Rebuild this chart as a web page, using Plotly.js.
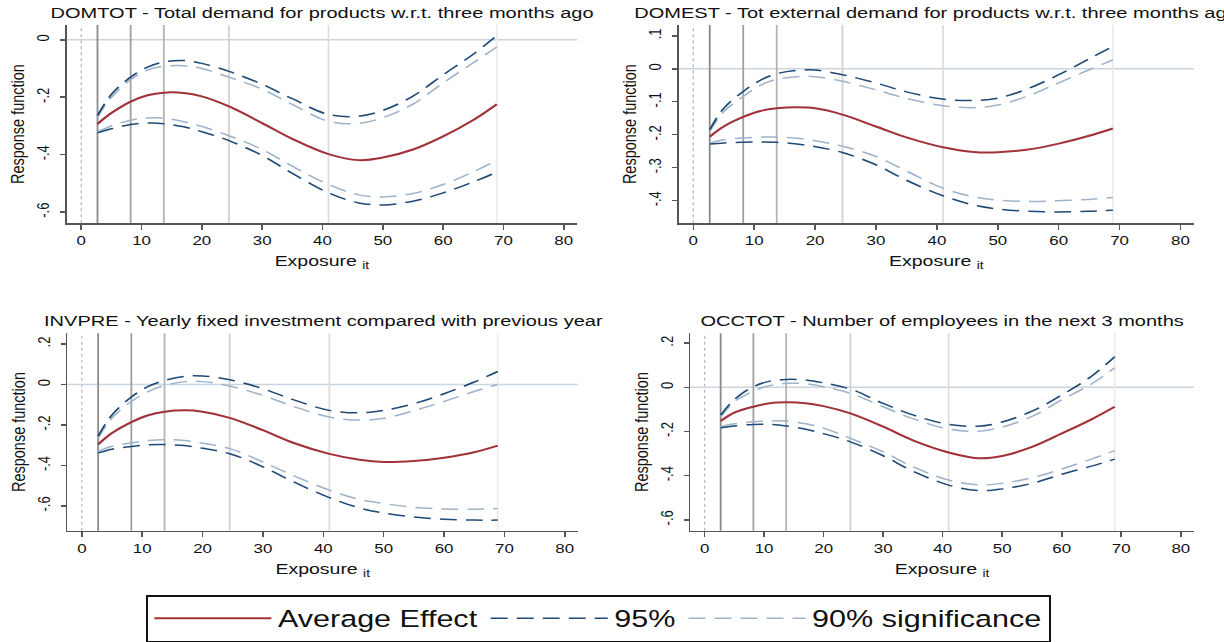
<!DOCTYPE html>
<html>
<head>
<meta charset="utf-8">
<script src="https://cdn.plot.ly/plotly-3.0.1.min.js"></script>
<style>
html,body{margin:0;padding:0;background:#fff;width:1224px;height:642px;overflow:hidden}
#wrap{width:1224px;height:642px;overflow:hidden}
#chart{width:941.54px;height:642px;transform:scaleX(1.3);transform-origin:0 0}
</style>
</head>
<body>
<div id="wrap"><div id="chart"></div></div>
<script>
// ---- data ----
const exposure = [2.7, 5, 8.2, 11, 13.7, 17, 20, 24.5, 30, 35, 41, 46, 50, 55, 60, 65, 68.9];
const percentiles = [2.7, 8.2, 13.7, 24.5, 41, 68.9];
const xTicks = [0, 10, 20, 30, 40, 50, 60, 70, 80];

const titles = [
  'DOMTOT - Total demand for products w.r.t. three months ago',
  'DOMEST - Tot external demand for products w.r.t. three months ago',
  'INVPRE - Yearly fixed investment compared with previous year',
  'OCCTOT - Number of employees in the next 3 months'
];
const seriesNames = ['Average Effect', '95%', '90% significance'];

// DOMTOT
const domtotMean = [-0.293, -0.255, -0.215, -0.193, -0.184, -0.185, -0.197, -0.232, -0.290, -0.345, -0.398, -0.419, -0.410, -0.382, -0.336, -0.279, -0.224];
const domtotUp95 = [-0.264, -0.190, -0.130, -0.095, -0.077, -0.072, -0.082, -0.110, -0.155, -0.205, -0.260, -0.266, -0.246, -0.196, -0.122, -0.050, 0.015];
const domtotUp90 = [-0.269, -0.200, -0.139, -0.105, -0.092, -0.090, -0.100, -0.130, -0.172, -0.225, -0.284, -0.291, -0.271, -0.224, -0.150, -0.080, -0.025];
const domtotLo90 = [-0.321, -0.300, -0.280, -0.272, -0.273, -0.285, -0.302, -0.334, -0.382, -0.440, -0.504, -0.540, -0.547, -0.535, -0.504, -0.460, -0.420];
const domtotLo95 = [-0.324, -0.310, -0.295, -0.290, -0.292, -0.303, -0.320, -0.351, -0.403, -0.465, -0.533, -0.568, -0.575, -0.562, -0.533, -0.495, -0.461];

// DOMEST
const domestMean = [-0.206, -0.175, -0.146, -0.128, -0.120, -0.117, -0.120, -0.139, -0.175, -0.208, -0.238, -0.252, -0.253, -0.245, -0.227, -0.203, -0.181];
const domestUp95 = [-0.185, -0.120, -0.069, -0.035, -0.015, -0.005, -0.004, -0.018, -0.043, -0.070, -0.092, -0.096, -0.089, -0.060, -0.018, 0.030, 0.068];
const domestUp90 = [-0.190, -0.130, -0.084, -0.050, -0.032, -0.024, -0.024, -0.038, -0.064, -0.090, -0.112, -0.118, -0.110, -0.082, -0.043, -0.003, 0.027];
const domestLo90 = [-0.225, -0.215, -0.210, -0.207, -0.207, -0.211, -0.218, -0.235, -0.266, -0.310, -0.362, -0.388, -0.398, -0.402, -0.400, -0.396, -0.390];
const domestLo95 = [-0.228, -0.225, -0.223, -0.222, -0.223, -0.228, -0.236, -0.254, -0.291, -0.338, -0.385, -0.413, -0.425, -0.432, -0.434, -0.432, -0.429];

// INVPRE
const invpreMean = [-0.296, -0.240, -0.186, -0.152, -0.135, -0.128, -0.135, -0.165, -0.226, -0.288, -0.343, -0.372, -0.383, -0.378, -0.362, -0.335, -0.302];
const invpreUp95 = [-0.255, -0.150, -0.062, -0.010, 0.020, 0.040, 0.042, 0.023, -0.021, -0.075, -0.128, -0.140, -0.128, -0.095, -0.046, 0.012, 0.064];
const invpreUp90 = [-0.264, -0.165, -0.084, -0.035, -0.005, 0.014, 0.014, -0.008, -0.054, -0.108, -0.161, -0.176, -0.167, -0.130, -0.084, -0.035, 0.000];
const invpreLo90 = [-0.330, -0.305, -0.289, -0.277, -0.273, -0.277, -0.290, -0.317, -0.383, -0.450, -0.522, -0.568, -0.588, -0.607, -0.615, -0.616, -0.613];
const invpreLo95 = [-0.338, -0.320, -0.306, -0.298, -0.297, -0.302, -0.315, -0.342, -0.407, -0.480, -0.559, -0.610, -0.635, -0.655, -0.666, -0.670, -0.670];

// OCCTOT
const occtotMean = [-0.153, -0.115, -0.088, -0.072, -0.068, -0.072, -0.085, -0.118, -0.178, -0.240, -0.295, -0.321, -0.311, -0.270, -0.209, -0.145, -0.088];
const occtotUp95 = [-0.126, -0.055, 0.003, 0.028, 0.036, 0.033, 0.020, -0.008, -0.073, -0.125, -0.168, -0.176, -0.157, -0.108, -0.035, 0.050, 0.139];
const occtotUp90 = [-0.133, -0.065, -0.017, 0.008, 0.018, 0.016, 0.003, -0.027, -0.088, -0.142, -0.189, -0.199, -0.180, -0.132, -0.057, 0.015, 0.089];
const occtotLo90 = [-0.178, -0.165, -0.156, -0.151, -0.153, -0.165, -0.185, -0.231, -0.292, -0.360, -0.420, -0.442, -0.435, -0.410, -0.370, -0.325, -0.287];
const occtotLo95 = [-0.183, -0.175, -0.168, -0.168, -0.175, -0.190, -0.210, -0.247, -0.310, -0.380, -0.443, -0.468, -0.460, -0.435, -0.394, -0.357, -0.325];

const yTickVals1 = [0, -0.2, -0.4, -0.6];
const yTickText1 = ['0', '-.2', '-.4', '-.6'];
const yTickVals2 = [0.1, 0, -0.1, -0.2, -0.3, -0.4];
const yTickText2 = ['.1', '0', '-.1', '-.2', '-.3', '-.4'];
const yTickVals3 = [0.2, 0, -0.2, -0.4, -0.6];
const yTickText3 = ['.2', '0', '-.2', '-.4', '-.6'];

// ---- styling / layout ----
const RED = '#a2323a', DARK = '#1f4a76', LIGHT = '#9fb4ca';
const pctColors = ['#8c8c8c', '#a0a0a0', '#b4b4b4', '#d2d2d2', '#dedede', '#ececec'];
const FONT = 'Liberation Sans, Arial, Helvetica, sans-serif';

const panels = [
  {sfx: '',  mean: domtotMean, up95: domtotUp95, up90: domtotUp90, lo90: domtotLo90, lo95: domtotLo95,
   xdom: [0.0545, 0.4712], ydom: [0.6511, 0.9611], yrange: [-0.639, 0.052], yv: yTickVals1, yt: yTickText1, titleY: 1 - 13/642},
  {sfx: '2', mean: domestMean, up95: domestUp95, up90: domestUp90, lo90: domestLo90, lo95: domestLo95,
   xdom: [0.5542, 0.9749], ydom: [0.6511, 0.9611], yrange: [-0.4685, 0.133], yv: yTickVals2, yt: yTickText2, titleY: 1 - 13/642},
  {sfx: '3', mean: invpreMean, up95: invpreUp95, up90: invpreUp90, lo90: invpreLo90, lo95: invpreLo95,
   xdom: [0.0550, 0.4720], ydom: [0.1706, 0.4793], yrange: [-0.723, 0.253], yv: yTickVals3, yt: yTickText3, titleY: 1 - 322/642},
  {sfx: '4', mean: occtotMean, up95: occtotUp95, up90: occtotUp90, lo90: occtotLo90, lo95: occtotLo95,
   xdom: [0.5637, 0.9749], ydom: [0.1706, 0.4793], yrange: [-0.65, 0.245], yv: yTickVals3, yt: yTickText3, titleY: 1 - 322/642}
];

const traces = [];
const shapes = [];
const annotations = [];
const layout = {
  width: 941.54, height: 642,
  margin: {l: 0, r: 0, t: 0, b: 0},
  paper_bgcolor: '#fff', plot_bgcolor: '#fff',
  font: {family: FONT, color: '#111'},
  showlegend: true,
  legend: {
    orientation: 'h', x: 0.4886, xanchor: 'center', y: 1 - 597/642, yanchor: 'top',
    bordercolor: '#111', borderwidth: 1.5, bgcolor: '#fff',
    font: {size: 23.5, family: FONT, color: '#111'}, itemwidth: 90, traceorder: 'normal'
  }
};

panels.forEach((p, i) => {
  const xa = 'x' + p.sfx, ya = 'y' + p.sfx;
  const first = i === 0;
  const mk = (y, color, dash, width, name, show, rank) => ({
    type: 'scatter', mode: 'lines', x: exposure, y: y, xaxis: xa, yaxis: ya,
    line: {color: color, dash: dash, width: width, shape: 'spline', smoothing: 1},
    name: name, legendgroup: name, showlegend: show, legendrank: rank, hoverinfo: 'skip'
  });
  traces.push(mk(p.up90, LIGHT, '13px,7px', 1.5, seriesNames[2], first, 3));
  traces.push(mk(p.lo90, LIGHT, '13px,7px', 1.5, seriesNames[2], false, 3));
  traces.push(mk(p.up95, DARK, '13px,7px', 1.5, seriesNames[1], first, 2));
  traces.push(mk(p.lo95, DARK, '13px,7px', 1.5, seriesNames[1], false, 2));
  traces.push(mk(p.mean, RED, 'solid', 2, seriesNames[0], first, 1));

  layout['xaxis' + p.sfx] = {
    domain: p.xdom, anchor: ya, range: [-2.4, 82.2],
    tickvals: xTicks, ticks: 'outside', ticklen: 5, tickwidth: 1.2, tickcolor: '#555',
    showline: true, linecolor: '#555', linewidth: 1.5, showgrid: false, zeroline: false,
    tickfont: {size: 13, family: FONT, color: '#111'},
    title: {text: 'Exposure <sub>it</sub>', font: {size: 15, family: FONT, color: '#111'}, standoff: 8},
    fixedrange: true
  };
  layout['yaxis' + p.sfx] = {
    domain: p.ydom, anchor: xa, range: p.yrange,
    tickvals: p.yv, ticktext: p.yt, tickangle: -90,
    ticks: 'outside', ticklen: 4, tickwidth: 1.5, tickcolor: '#555',
    showline: true, linecolor: '#555', linewidth: 1.2, showgrid: false, zeroline: false,
    tickfont: {size: 13, family: FONT, color: '#111'}, ticklabelstandoff: 3,
    title: {text: 'Response function', font: {size: 14.5, family: FONT, color: '#111'}, standoff: 3},
    fixedrange: true
  };

  // reference lines
  shapes.push({type: 'line', xref: xa, yref: ya + ' domain', x0: 0, x1: 0, y0: 0, y1: 1,
    line: {color: '#b8b8b8', width: 1, dash: 'dot'}, layer: 'below'});
  shapes.push({type: 'line', xref: xa + ' domain', yref: ya, x0: 0, x1: 1, y0: 0, y1: 0,
    line: {color: '#cbd5df', width: 1.5}, layer: 'below'});
  percentiles.forEach((v, k) => {
    shapes.push({type: 'line', xref: xa, yref: ya + ' domain', x0: v, x1: v, y0: 0, y1: 1,
      line: {color: pctColors[k], width: 1.4}, layer: 'below'});
  });

  annotations.push({
    text: titles[i], xref: 'paper', yref: 'paper',
    x: (p.xdom[0] + p.xdom[1]) / 2, y: p.titleY, xanchor: 'center', yanchor: 'middle',
    showarrow: false, font: {size: 15.4, family: FONT, color: '#111'}
  });
});

layout.shapes = shapes;
layout.annotations = annotations;

Plotly.newPlot('chart', traces, layout, {displayModeBar: false, staticPlot: true});
</script>
</body>
</html>
